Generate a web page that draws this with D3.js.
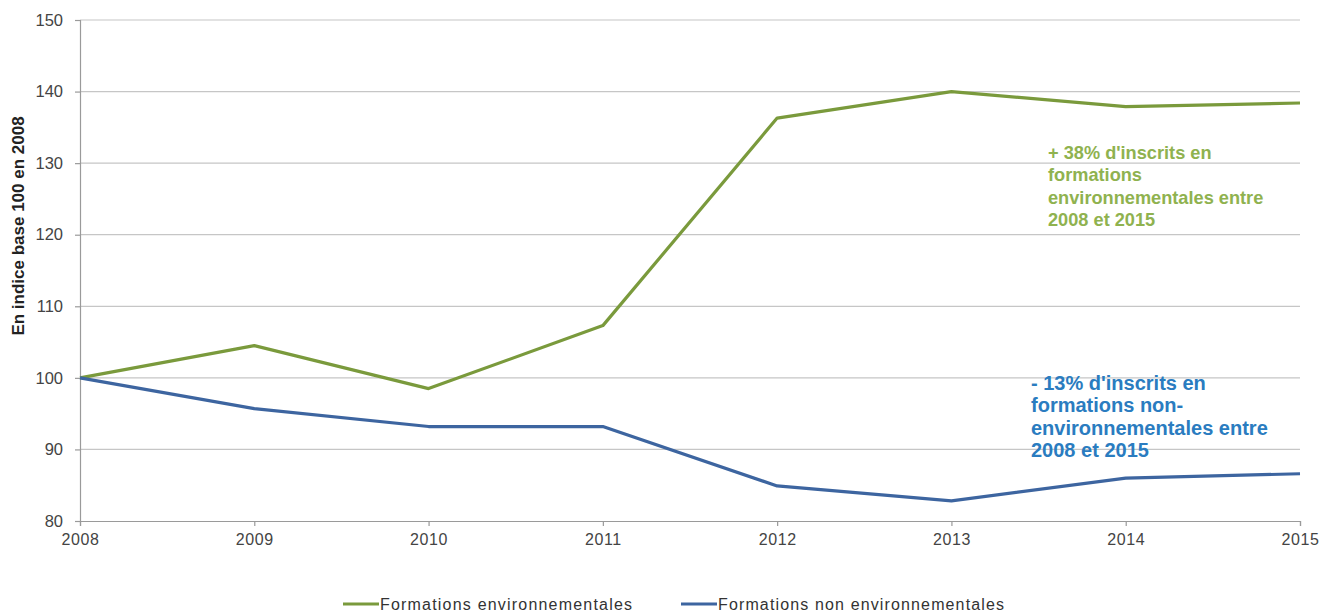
<!DOCTYPE html>
<html>
<head>
<meta charset="utf-8">
<script src="https://cdn.jsdelivr.net/npm/d3@7"></script>
<style>
  html, body { margin: 0; padding: 0; background: #fff; }
  svg { display: block; font-family: "Liberation Sans", Arial, sans-serif; }
</style>
</head>
<body>
<svg id="chart" width="1335" height="616"></svg>
<script>
// Years on the horizontal axis
const years = [2008, 2009, 2010, 2011, 2012, 2013, 2014, 2015];
// Enrolment index, base 100 in 2008
const envValues = [100, 104.5, 98.5, 107.3, 136.3, 140.0, 137.9, 138.4];
const nonEnvValues = [100, 95.7, 93.2, 93.2, 84.9, 82.8, 86.0, 86.6];
const yTicks = [80, 90, 100, 110, 120, 130, 140, 150];
const seriesNames = ["Formations environnementales", "Formations non environnementales"];
const seriesColors = ["#7a9a3c", "#3d65a0"];
const envNote = ["+ 38% d'inscrits en", "formations", "environnementales entre", "2008 et 2015"];
const nonEnvNote = ["- 13% d'inscrits en", "formations non-", "environnementales entre", "2008 et 2015"];

const svg = d3.select("#chart");
const margin = { left: 80, right: 35, top: 20, bottom: 95 };
const W = 1335, H = 616;

const x = d3.scaleLinear().domain([2008, 2015]).range([margin.left, W - margin.right]);
const y = d3.scaleLinear().domain([80, 150]).range([H - margin.bottom, margin.top]);

// Horizontal gridlines
svg.append("g")
  .selectAll("line")
  .data(yTicks.filter(t => t !== 80))
  .join("line")
  .attr("x1", x(2008)).attr("x2", x(2015))
  .attr("y1", d => y(d)).attr("y2", d => y(d))
  .attr("stroke", "#c6c6c6").attr("stroke-width", 1.2);

// Y axis
const yAxis = svg.append("g")
  .attr("transform", `translate(${x(2008)},0)`)
  .call(d3.axisLeft(y).tickValues(yTicks).tickSize(5).tickPadding(12).tickFormat(d3.format("d")));
yAxis.select(".domain").attr("stroke", "#9a9a9a").attr("stroke-width", 1.2);
yAxis.selectAll(".tick line").attr("stroke", "#9a9a9a").attr("stroke-width", 1.2);
yAxis.selectAll(".tick text")
  .attr("fill", "#444").attr("font-size", 16.5)
  .attr("font-family", "'Liberation Sans', Arial, sans-serif");

// X axis
const xAxis = svg.append("g")
  .attr("transform", `translate(0,${y(80)})`)
  .call(d3.axisBottom(x).tickValues(years).tickSize(5).tickPadding(8).tickFormat(d3.format("d")));
xAxis.select(".domain").attr("stroke", "#9a9a9a").attr("stroke-width", 1.2);
xAxis.selectAll(".tick line").attr("stroke", "#9a9a9a").attr("stroke-width", 1.2);
xAxis.selectAll(".tick text")
  .attr("fill", "#444").attr("font-size", 16)
  .attr("letter-spacing", 0.6)
  .attr("font-family", "'Liberation Sans', Arial, sans-serif");

// Y axis title
svg.append("text")
  .attr("transform", `translate(24,226) rotate(-90)`)
  .attr("text-anchor", "middle")
  .attr("font-size", 17).attr("font-weight", "bold").attr("fill", "#222")
  .text("En indice base 100 en 2008");

// Series lines
const line = d3.line().x((d, i) => x(years[i])).y(d => y(d));
[envValues, nonEnvValues].forEach((vals, k) => {
  svg.append("path")
    .datum(vals)
    .attr("d", line)
    .attr("fill", "none")
    .attr("stroke", seriesColors[k])
    .attr("stroke-width", 3.2)
    .attr("stroke-linejoin", "round");
});

// Annotations
function note(lines, x0, y0, color, size) {
  const t = svg.append("text")
    .attr("x", x0).attr("y", y0)
    .attr("font-size", size).attr("font-weight", "bold").attr("fill", color);
  lines.forEach((s, i) => {
    t.append("tspan").attr("x", x0).attr("dy", i === 0 ? 0 : 22.3).text(s);
  });
}
note(envNote, 1048, 159, "#8fb24f", 18.2);
note(nonEnvNote, 1031, 390, "#2a7cc0", 20);

// Legend
const legend = svg.append("g");
const legendItems = [
  { x: 343, lineW: 36, textW: 252 },
  { x: 681, lineW: 36, textW: 286 }
];
legendItems.forEach((it, k) => {
  legend.append("line")
    .attr("x1", it.x).attr("x2", it.x + it.lineW)
    .attr("y1", 604).attr("y2", 604)
    .attr("stroke", seriesColors[k]).attr("stroke-width", 3);
  legend.append("text")
    .attr("x", it.x + it.lineW + 1).attr("y", 610)
    .attr("font-size", 16).attr("fill", "#333")
    .attr("font-family", "'Liberation Sans Narrow', 'Liberation Sans', Arial, sans-serif")
    .attr("textLength", it.textW).attr("lengthAdjust", "spacing")
    .text(seriesNames[k]);
});
</script>
</body>
</html>
